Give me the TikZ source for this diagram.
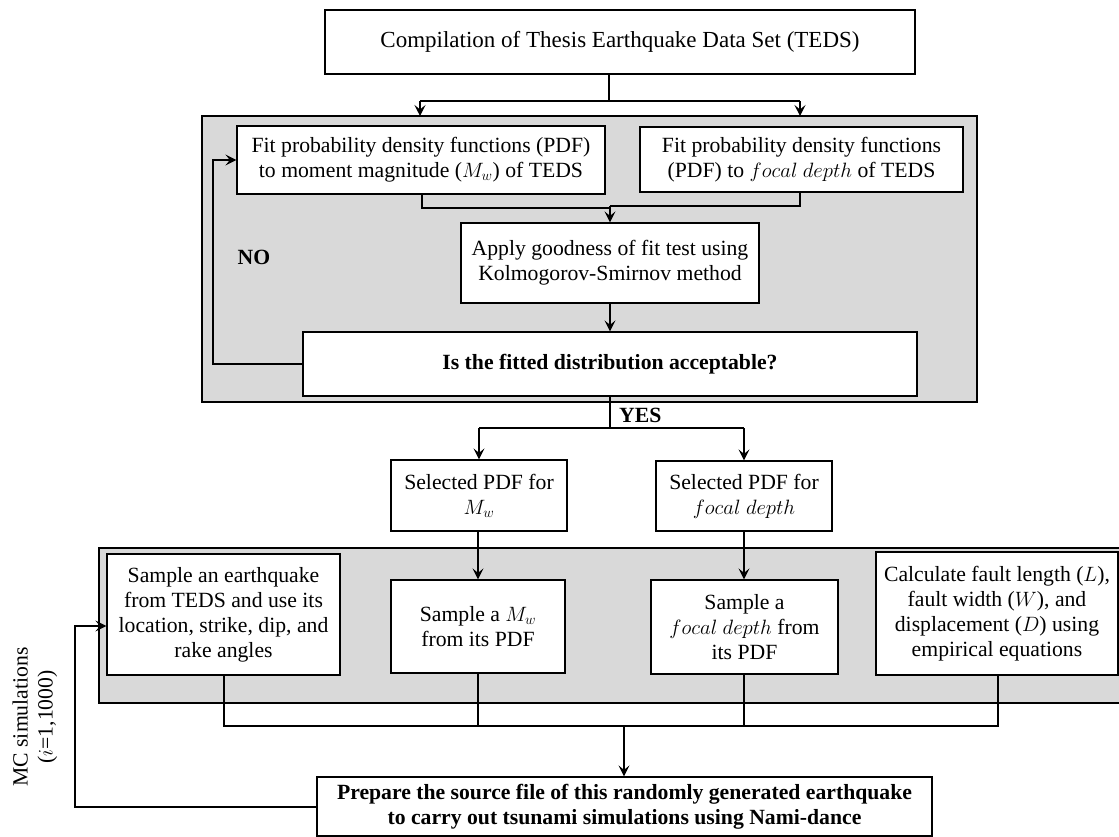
\documentclass[tikz,border=0pt]{standalone}
\usepackage{fontspec}
\setmainfont{Liberation Serif}
\usetikzlibrary{arrows.meta}
\definecolor{panelgray}{HTML}{D9D9D9}
\begin{document}
\begin{tikzpicture}[x=1pt,y=-1pt,
  every node/.style={font=\fontsize{21.7}{25}\selectfont},
  box/.style={draw=black, fill=white, line width=1.2pt, inner sep=0pt, align=center},
  panel/.style={draw=black, fill=panelgray, line width=1.5pt},
  conn/.style={line width=1.3pt},
  arr/.style={line width=1.3pt, -{Stealth[length=11pt,width=11pt,inset=4.5pt]}},
  loop/.style={line width=2pt, -{Stealth[length=11pt,width=11pt,inset=4.5pt]}},
  lbl/.style={font=\fontsize{21.7}{25}\selectfont\bfseries, inner sep=0pt}
]
\useasboundingbox (0,0) rectangle (1119,837);

% panels
\draw[panel] (202,116) rectangle (977,402);
\draw[panel] (99,548) rectangle (1125,703);
\coordinate (p1top) at (610,116);

% boxes
\node[box, minimum width=590pt, minimum height=64pt, font=\fontsize{23}{27}\selectfont] (top) at (620,42) {Compilation of Thesis Earthquake Data Set (TEDS)};
\node[box, minimum width=368pt, minimum height=68pt] (b1) at (421,160) {Fit probability density functions (PDF)\\to moment magnitude ($M_w$) of TEDS};
\node[box, minimum width=323pt, minimum height=65pt] (b2) at (801.5,159.5) {Fit probability density functions\\(PDF) to $focal\ depth$ of TEDS};
\node[box, minimum width=298pt, minimum height=80pt] (b3) at (610,263) {Apply goodness of fit test using\\Kolmogorov-Smirnov method};
\node[box, minimum width=614pt, minimum height=64pt, font=\fontsize{21.7}{25}\selectfont\bfseries] (b4) at (610,364) {Is the fitted distribution acceptable?};
\node[box, minimum width=176pt, minimum height=71pt] (b5) at (479,495.5) {Selected PDF for\\$M_w$};
\node[box, minimum width=176pt, minimum height=70pt] (b6) at (744,496) {Selected PDF for\\$focal\ depth$};
\node[box, minimum width=233pt, minimum height=121pt] (b9) at (223.5,614.5) {Sample an earthquake\\from TEDS and use its\\location, strike, dip, and\\rake angles};
\node[box, minimum width=174pt, minimum height=93pt] (b7) at (478,626.5) {Sample a $M_w$\\from its PDF};
\node[box, minimum width=187pt, minimum height=94pt] (b8) at (744.5,627) {Sample a\\$focal\ depth$ from\\its PDF};
\node[box, minimum width=242pt, minimum height=123pt] (b10) at (997,613.5) {Calculate fault length ($L$),\\fault width ($W$), and\\displacement ($D$) using\\empirical equations};
\node[box, minimum width=615pt, minimum height=59pt, font=\fontsize{21.7}{25}\selectfont\bfseries] (b11) at (624.5,806.5) {Prepare the source file of this randomly generated earthquake\\to carry out tsunami simulations using Nami-dance};

% labels
\node[lbl] (no) at (254,257) {NO};
\node[lbl, anchor=west] (yes) at (619,415) {YES};
\node[rotate=90, align=center, inner sep=0pt] (mc) at (35,717) {MC simulations\\($i$=1,1000)};

% top split
\coordinate (s0) at (609,101);
\coordinate (sl) at (420,101);
\coordinate (sr) at (800,101);
\draw[conn] (top.south -| s0) -- (s0);
\draw[conn] (sl) -- (sr);
\draw[arr] (sl) -- (sl |- p1top);
\draw[arr] (sr) -- (sr |- p1top);

% merge into b3
\coordinate (m1) at (422,208);
\coordinate (m2) at (800,206);
\coordinate (mc3) at (610,208);
\draw[conn] (b1.south -| m1) -- (m1) -- (mc3);
\draw[conn] (b2.south -| m2) -- (m2) -- (m2 -| mc3);
\draw[arr] (m2 -| mc3) -- (b3.north);
\draw[arr] (b3.south) -- (b4.north);

% NO loop
\coordinate (nol) at (213,364);
\draw[loop] (b4.west) -- (nol) |- (b1.west);

% YES split
\coordinate (y0) at (610,428);
\coordinate (yl) at (479,428);
\coordinate (yr) at (744,428);
\draw[conn] (b4.south) -- (y0);
\draw[conn] (yl) -- (yr);
\draw[arr] (yl) -- (b5.north);
\draw[arr] (yr) -- (b6.north);
\draw[arr] (b5.south -| b7.north) -- (b7.north);
\draw[arr] (b6.south) -- (b6.south |- b8.north);

% bottom merge
\coordinate (ml) at (224,726);
\coordinate (mr) at (998,726);
\coordinate (mm) at (624,726);
\draw[conn] (b9.south -| ml) -- (ml) -- (mr) -- (b10.south -| mr);
\draw[conn] (b7.south) -- (b7.south |- ml);
\draw[conn] (b8.south -| 744,0) -- (744,726);
\draw[arr] (mm) -- (mm |- b11.north);

% MC loop
\coordinate (mcl) at (75,626);
\draw[loop] (b11.west) -| (mcl) -- (mcl -| b9.west);
\end{tikzpicture}
\end{document}
